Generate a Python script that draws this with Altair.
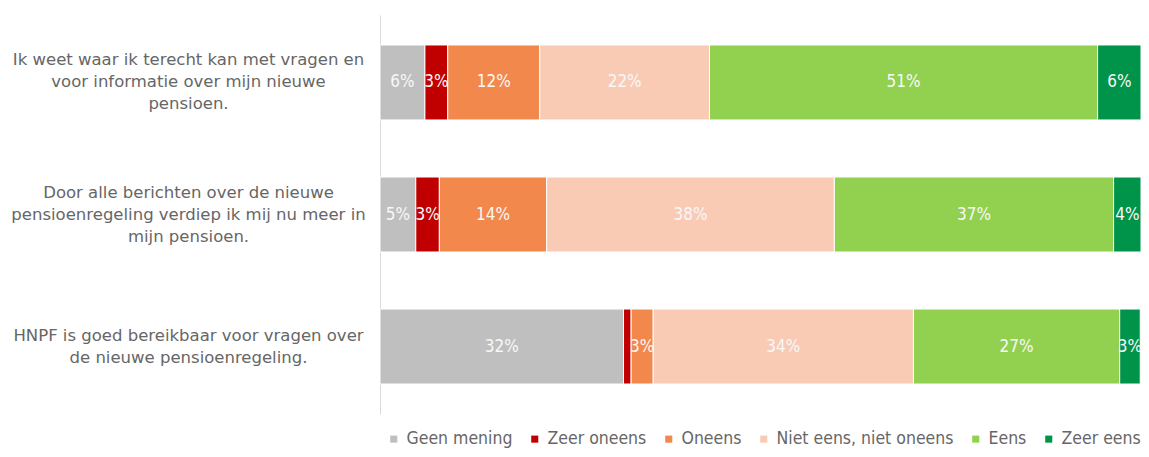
import altair as alt
import pandas as pd

questions = [
    "Ik weet waar ik terecht kan met vragen en\nvoor informatie over mijn nieuwe\npensioen.",
    "Door alle berichten over de nieuwe\npensioenregeling verdiep ik mij nu meer in\nmijn pensioen.",
    "HNPF is goed bereikbaar voor vragen over\nde nieuwe pensioenregeling.",
]
answers = ["Geen mening", "Zeer oneens", "Oneens", "Niet eens, niet oneens", "Eens", "Zeer eens"]
colors = ["#BFBFBF", "#C00000", "#F2884C", "#F9CBB5", "#92D050", "#00934A"]

q1_values = [5.9, 3.0, 12.1, 22.3, 51.0, 5.7]
q2_values = [4.7, 3.1, 14.1, 37.8, 36.7, 3.6]
q3_values = [32.0, 1.0, 2.9, 34.2, 27.1, 2.7]

rows = []
for q, vals in zip(questions, [q1_values, q2_values, q3_values]):
    for i, (a, v) in enumerate(zip(answers, vals)):
        rows.append({"question": q, "answer": a, "order": i, "value": v})
df = pd.DataFrame(rows)

FONT_C = "DejaVu Sans Condensed"
FONT = "DejaVu Sans"
GREY = "#666666"
LINE_H = 22

base = alt.Chart(df).transform_stack(
    stack="value", groupby=["question"], sort=[alt.SortField("order")], as_=["x0", "x1"]
).transform_calculate(mid="(datum.x0 + datum.x1) / 2")

yenc = alt.Y(
    "question:N",
    sort=questions,
    title=None,
    scale=alt.Scale(paddingInner=0.432, paddingOuter=0.227),
    axis=alt.Axis(
        labelExpr="split(datum.label, '\\n')",
        labelAlign="center",
        labelBaseline="middle",
        labelPadding=192,
        labelLimit=0,
        labelOffset={
            "condition": {"test": "length(split(datum.value, '\\n')) == 3", "value": -LINE_H},
            "value": -LINE_H / 2,
        },
        ticks=False,
        tickSize=0,
        labelFont=FONT,
        labelFontSize=16.5,
        labelColor=GREY,
        labelLineHeight=LINE_H,
        domainColor="#D9D9D9",
        domainWidth=1,
    ),
)

xs = alt.Scale(domain=[0, 100], nice=False, zero=True)

bars = base.mark_bar(stroke="white", strokeWidth=1).encode(
    y=yenc,
    x=alt.X("x0:Q", scale=xs, axis=None),
    x2="x1:Q",
    color=alt.Color(
        "answer:N",
        scale=alt.Scale(domain=answers, range=colors),
        sort=answers,
        legend=alt.Legend(
            title=None,
            orient="none",
            legendX=5,
            legendY=415,
            direction="horizontal",
            symbolType="square",
            symbolSize=50,
            symbolStrokeWidth=0,
            labelFont=FONT_C,
            labelFontSize=17.5,
            labelColor=GREY,
            labelLimit=0,
            columnPadding=13,
            labelOffset=4,
        ),
    ),
)

labels = base.transform_filter("datum.value >= 2").mark_text(
    color="#F8F8F8", font=FONT_C, fontSize=17, baseline="middle", align="center"
).encode(
    y=alt.Y("question:N", sort=questions),
    x=alt.X("mid:Q", scale=xs),
    text=alt.Text("label:N"),
).transform_calculate(label="format(datum.value, '.0f') + '%'")

chart = alt.layer(bars, labels).properties(
    width=761,
    height=399,
    autosize=alt.AutoSizeParams(type="none"),
    padding={"left": 372, "top": 7, "right": 0, "bottom": 35},
).configure_view(stroke=None)

chart.save("out.html", embed_options={"renderer": "svg", "actions": False})
